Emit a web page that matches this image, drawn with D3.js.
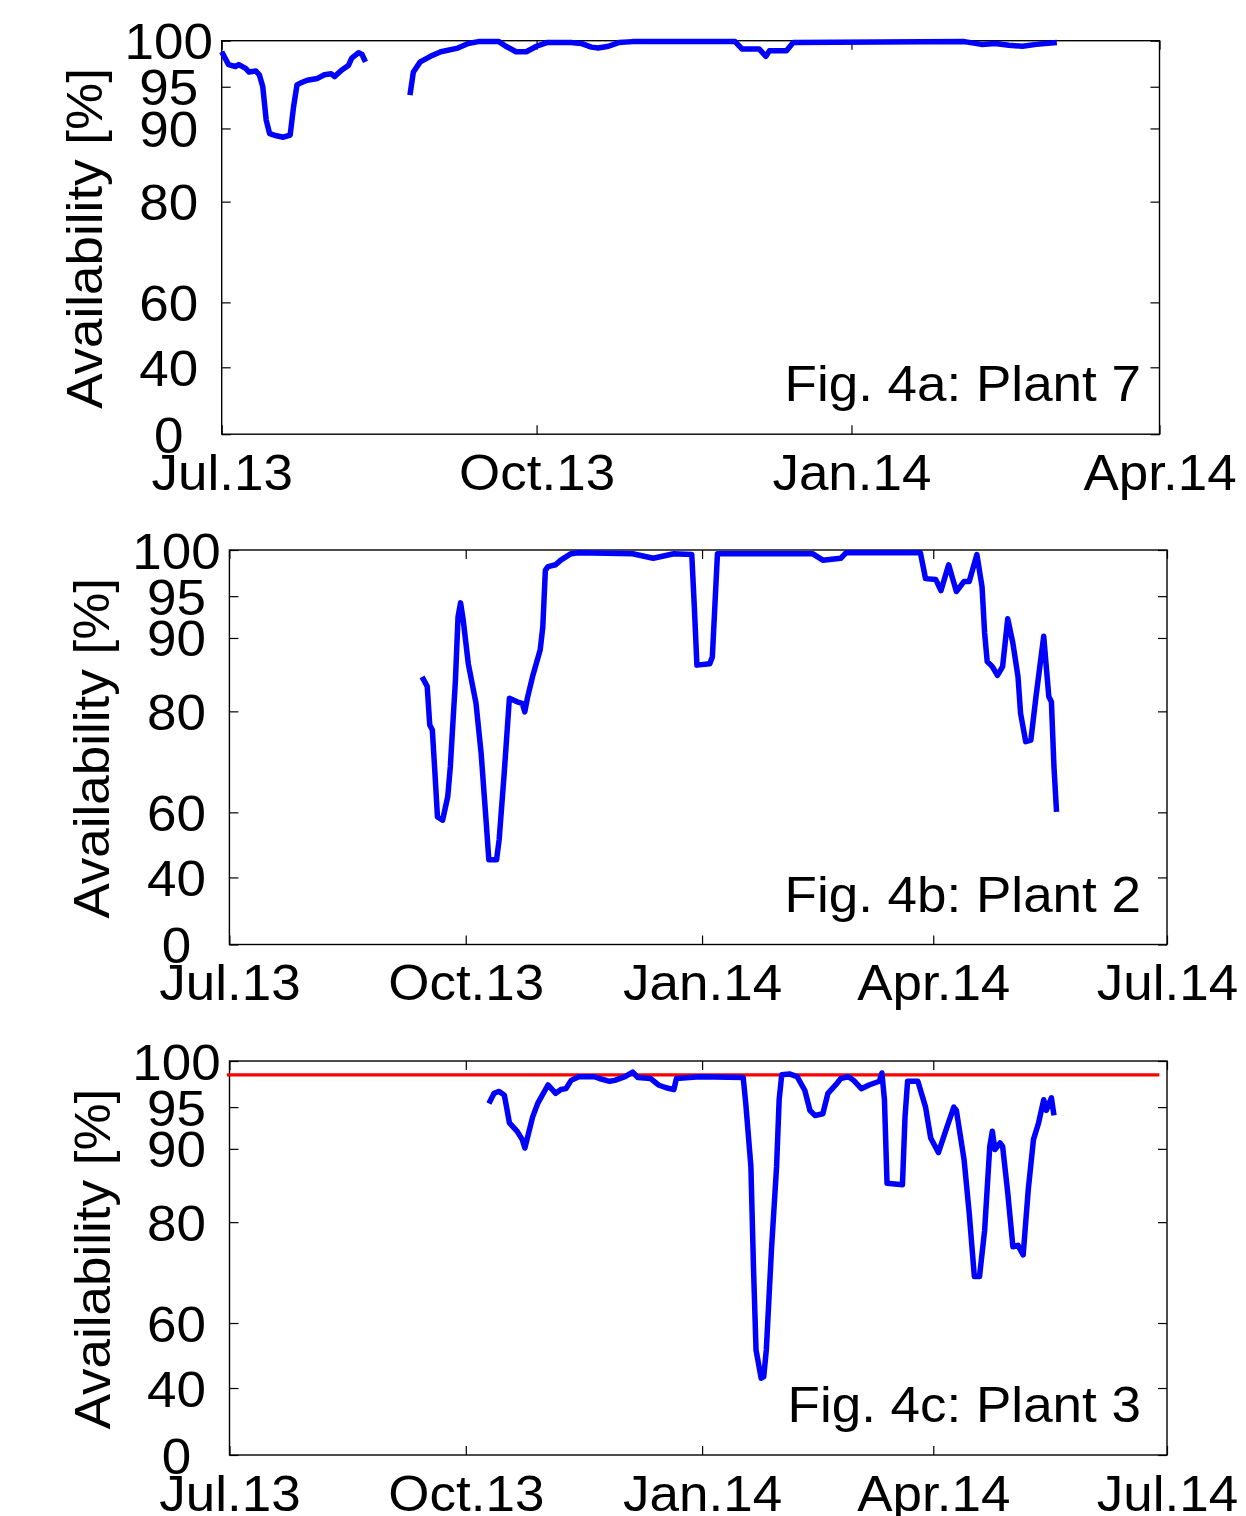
<!DOCTYPE html>
<html>
<head>
<meta charset="utf-8">
<script src="https://cdn.jsdelivr.net/npm/d3@7"></script>
<style>
  html, body { margin: 0; padding: 0; background: #fff; }
  svg { display: block; }
  text { font-family: "Liberation Sans", Arial, Helvetica, sans-serif; fill: #000; }
</style>
</head>
<body>
<svg id="chart" width="1246" height="1516"></svg>
<script>
// ---------------- data ----------------
const yTickValues = [0, 40, 60, 80, 90, 95, 100];
const yTickLabels = ["0", "40", "60", "80", "90", "95", "100"];

const ticksA = ["2013-07-01", "2013-10-01", "2014-01-01", "2014-04-01"];
const tickLabelsA = ["Jul.13", "Oct.13", "Jan.14", "Apr.14"];
const ticksBC = ["2013-07-01", "2013-10-01", "2014-01-01", "2014-04-01", "2014-07-01"];
const tickLabelsBC = ["Jul.13", "Oct.13", "Jan.14", "Apr.14", "Jul.14"];

const panelTitles = ["Fig. 4a: Plant 7", "Fig. 4b: Plant 2", "Fig. 4c: Plant 3"];
const yTitle = "Availability [%]";

// Plant 7 (null = gap in data)
const plant7Dates = [
  "2013-07-01","2013-07-03","2013-07-05","2013-07-06","2013-07-08","2013-07-09","2013-07-11","2013-07-12",
  "2013-07-13","2013-07-14","2013-07-15","2013-07-17","2013-07-19","2013-07-21","2013-07-22","2013-07-23",
  "2013-07-24","2013-07-26","2013-07-29","2013-07-31","2013-08-02","2013-08-03","2013-08-05","2013-08-07",
  "2013-08-08","2013-08-10","2013-08-11","2013-08-12",
  "2013-08-18",
  "2013-08-25","2013-08-26","2013-08-28","2013-08-31","2013-09-03","2013-09-08","2013-09-11","2013-09-14",
  "2013-09-20","2013-09-22","2013-09-25","2013-09-28","2013-10-01","2013-10-04","2013-10-11","2013-10-14",
  "2013-10-17","2013-10-19","2013-10-22","2013-10-25","2013-10-29","2013-11-28","2013-11-30","2013-12-05",
  "2013-12-07","2013-12-08","2013-12-13","2013-12-15","2014-02-03","2014-02-08","2014-02-12","2014-02-16",
  "2014-02-20","2014-02-24","2014-03-02"
];
const plant7Values = [
  98.8,97.4,97.2,97.4,97.0,96.6,96.7,96.3,
  95.0,91.0,89.3,89.0,88.8,89.1,92.6,95.2,
  95.4,95.7,95.9,96.3,96.4,96.1,96.8,97.3,
  98.1,98.7,98.5,97.7,
  null,
  94.0,96.6,97.7,98.3,98.8,99.2,99.7,99.9,
  99.9,99.4,98.8,98.8,99.4,99.8,99.8,99.7,
  99.3,99.2,99.4,99.8,99.9,99.9,99.1,99.1,
  98.3,98.9,98.9,99.8,99.9,99.6,99.7,99.5,
  99.4,99.6,99.8
];

// Plant 2
const plant2Dates = [
  "2013-09-14","2013-09-16","2013-09-17","2013-09-18","2013-09-19","2013-09-20","2013-09-22","2013-09-24",
  "2013-09-25","2013-09-27","2013-09-28","2013-09-29","2013-09-30","2013-10-02","2013-10-05","2013-10-07",
  "2013-10-09","2013-10-10","2013-10-13","2013-10-14","2013-10-16","2013-10-18","2013-10-21","2013-10-23",
  "2013-10-24","2013-10-25","2013-10-27","2013-10-30","2013-10-31","2013-11-01","2013-11-02","2013-11-05",
  "2013-11-07","2013-11-11","2013-11-14","2013-12-05","2013-12-13","2013-12-21","2013-12-28","2013-12-29",
  "2013-12-30","2014-01-04","2014-01-05","2014-01-07","2014-02-13","2014-02-17","2014-02-24","2014-02-26",
  "2014-03-27","2014-03-29","2014-04-02","2014-04-04","2014-04-07","2014-04-10","2014-04-13","2014-04-15",
  "2014-04-18","2014-04-20","2014-04-21","2014-04-22","2014-04-24","2014-04-26","2014-04-28","2014-04-30",
  "2014-05-02","2014-05-04","2014-05-05","2014-05-07","2014-05-09","2014-05-11","2014-05-14","2014-05-16",
  "2014-05-17","2014-05-18","2014-05-19"
];
const plant2Values = [
  84.7,83.4,77.3,76.3,67.9,58.6,57.6,63.1,
  69.0,84.3,92.5,94.2,92.2,86.5,81.1,71.7,
  56.6,45.4,45.4,51.5,67.9,81.8,81.3,81.1,
  79.9,81.8,84.7,88.4,91.3,97.8,98.2,98.4,
  98.9,99.6,99.7,99.6,99.1,99.6,99.5,93.7,
  86.3,86.5,87.4,99.6,99.6,98.9,99.1,99.7,
  99.7,96.9,96.8,95.6,98.4,95.5,96.6,96.6,
  99.5,96.0,90.6,86.8,86.1,84.9,86.1,92.3,
  89.3,84.7,79.6,74.0,74.3,82.0,90.2,82.0,
  81.3,69.0,60.1
];

// Plant 3
const plant3Dates = [
  "2013-10-10","2013-10-12","2013-10-14","2013-10-16","2013-10-18","2013-10-21","2013-10-23","2013-10-24",
  "2013-10-27","2013-10-29","2013-11-02","2013-11-05","2013-11-07","2013-11-09","2013-11-11","2013-11-14",
  "2013-11-20","2013-11-22","2013-11-26","2013-11-28","2013-12-02","2013-12-05","2013-12-07","2013-12-12",
  "2013-12-15","2013-12-18","2013-12-21","2013-12-22","2013-12-31","2014-01-17","2014-01-18","2014-01-20",
  "2014-01-21","2014-01-22","2014-01-24","2014-01-25","2014-01-26","2014-01-28","2014-01-30","2014-01-31",
  "2014-02-01","2014-02-04","2014-02-07","2014-02-10","2014-02-12","2014-02-14","2014-02-17","2014-02-19",
  "2014-02-22","2014-02-24","2014-02-27","2014-03-01","2014-03-04","2014-03-07","2014-03-11","2014-03-12",
  "2014-03-13","2014-03-14","2014-03-20","2014-03-21","2014-03-22","2014-03-26","2014-03-29","2014-03-31",
  "2014-04-03","2014-04-06","2014-04-09","2014-04-10","2014-04-13","2014-04-15","2014-04-17","2014-04-19",
  "2014-04-21","2014-04-23","2014-04-24","2014-04-25","2014-04-27","2014-04-28","2014-04-30","2014-05-02",
  "2014-05-04","2014-05-06","2014-05-08","2014-05-10","2014-05-12","2014-05-14","2014-05-15","2014-05-17",
  "2014-05-18"
];
const plant3Values = [
  95.4,96.5,96.7,96.3,93.1,92.1,91.1,90.1,
  93.8,95.4,97.4,96.5,96.9,97.0,97.9,98.3,
  98.3,98.1,97.8,97.9,98.3,98.8,98.2,98.1,
  97.4,97.1,96.9,98.1,98.3,98.2,95.4,87.6,
  71.1,51.7,43.0,43.5,51.7,74.5,87.6,95.8,
  98.5,98.6,98.3,96.8,94.6,94.0,94.2,96.5,
  97.4,98.1,98.3,97.9,97.0,97.4,97.8,98.7,
  95.8,85.3,85.1,93.8,97.8,97.8,95.0,91.3,
  89.5,92.3,95.0,94.6,88.5,81.2,69.2,69.2,
  78.4,90.3,92.1,89.9,90.7,90.3,84.0,75.1,
  75.4,73.5,84.5,91.1,93.1,95.8,94.6,96.0,
  94.0
];

// Plant 3 target line
const targetDates = ["2013-06-30", "2014-06-28"];
const targetValue = 98.5;

// ---------------- drawing ----------------
const parse = d3.timeParse("%Y-%m-%d");
const svg = d3.select("#chart");

// relative vertical placement of the (non-linear) availability axis
const yFractions = [1, 0.83, 0.665, 0.409, 0.223, 0.117, 0];

const panels = [
  { left: 221.7, right: 1159.5, top: 40.7, bottom: 434.2,
    domain: ["2013-07-01", "2014-04-01"], ticks: ticksA, tickLabels: tickLabelsA,
    dates: plant7Dates, values: plant7Values, title: panelTitles[0], target: false },
  { left: 229.4, right: 1167, top: 550, bottom: 944.5,
    domain: ["2013-07-01", "2014-07-01"], ticks: ticksBC, tickLabels: tickLabelsBC,
    dates: plant2Dates, values: plant2Values, title: panelTitles[1], target: false },
  { left: 229.5, right: 1167, top: 1061, bottom: 1455,
    domain: ["2013-07-01", "2014-07-01"], ticks: ticksBC, tickLabels: tickLabelsBC,
    dates: plant3Dates, values: plant3Values, title: panelTitles[2], target: true }
];

const FS = 50;
const SX = 1.06; // horizontal stretch of the original lettering

panels.forEach((p, i) => {
  const x = d3.scaleTime().domain(p.domain.map(parse)).range([p.left, p.right]);
  const h = p.bottom - p.top;
  const y = d3.scaleLinear().domain(yTickValues).range(yFractions.map(f => p.top + f * h));
  const g = svg.append("g");

  const tickDates = p.ticks.map(parse);
  const labelOf = d => p.tickLabels[tickDates.findIndex(t => +t === +d)];

  // bottom axis (inward ticks) with labels
  const xb = g.append("g").attr("transform", `translate(0,${p.bottom})`)
    .call(d3.axisBottom(x).tickValues(tickDates).tickSizeInner(-9).tickSizeOuter(0).tickFormat(labelOf));
  xb.select(".domain").remove();
  xb.selectAll("line").attr("stroke", "#000").attr("stroke-width", 1.2);
  xb.selectAll("text").attr("y", 56).attr("dy", 0)
    .style("font-size", FS + "px")
    .attr("transform", `scale(${SX},1)`);

  // top axis, ticks only
  const xt = g.append("g").attr("transform", `translate(0,${p.top})`)
    .call(d3.axisTop(x).tickValues(tickDates).tickSizeInner(-9).tickSizeOuter(0).tickFormat(""));
  xt.select(".domain").remove();
  xt.selectAll("line").attr("stroke", "#000").attr("stroke-width", 1.2);

  // left axis with centred labels
  const yl = g.append("g").attr("transform", `translate(${p.left},0)`)
    .call(d3.axisLeft(y).tickValues(yTickValues).tickSizeInner(-9).tickSizeOuter(0)
      .tickFormat(d => yTickLabels[yTickValues.indexOf(d)]));
  yl.select(".domain").remove();
  yl.selectAll("line").attr("stroke", "#000").attr("stroke-width", 1.2);
  yl.selectAll("text").attr("x", 0).attr("dy", "0.36em")
    .attr("text-anchor", "middle").style("font-size", FS + "px")
    .attr("transform", `translate(-53,0) scale(${SX},1)`);

  // right axis, ticks only
  const yr = g.append("g").attr("transform", `translate(${p.right},0)`)
    .call(d3.axisRight(y).tickValues(yTickValues).tickSizeInner(-9).tickSizeOuter(0).tickFormat(""));
  yr.select(".domain").remove();
  yr.selectAll("line").attr("stroke", "#000").attr("stroke-width", 1.2);

  // box
  g.append("rect").attr("x", p.left).attr("y", p.top)
    .attr("width", p.right - p.left).attr("height", h)
    .attr("fill", "none").attr("stroke", "#000").attr("stroke-width", 1.4);

  // y title
  g.append("text")
    .attr("transform", `translate(${p.left - 120},${(p.top + p.bottom) / 2 + 1}) rotate(-90) scale(${SX},1)`)
    .attr("text-anchor", "middle").style("font-size", FS + "px")
    .text(yTitle);

  // panel title
  g.append("text")
    .attr("transform", `translate(1141,${p.bottom - 33}) scale(${SX},1)`)
    .attr("text-anchor", "end").style("font-size", FS + "px")
    .text(p.title);

  // target line
  if (p.target) {
    g.append("path")
      .datum(targetDates.map(parse))
      .attr("d", d3.line().x(d => x(d)).y(() => y(targetValue)))
      .attr("fill", "none").attr("stroke", "#ff0000").attr("stroke-width", 3.2);
  }

  // data line
  const pts = p.dates.map((d, k) => ({ date: parse(d), v: p.values[k] }));
  g.append("path")
    .datum(pts)
    .attr("d", d3.line().defined(d => d.v !== null).x(d => x(d.date)).y(d => y(d.v)))
    .attr("fill", "none").attr("stroke", "#0000ff").attr("stroke-width", 5.5)
    .attr("stroke-linejoin", "round");
});
</script>
</body>
</html>
